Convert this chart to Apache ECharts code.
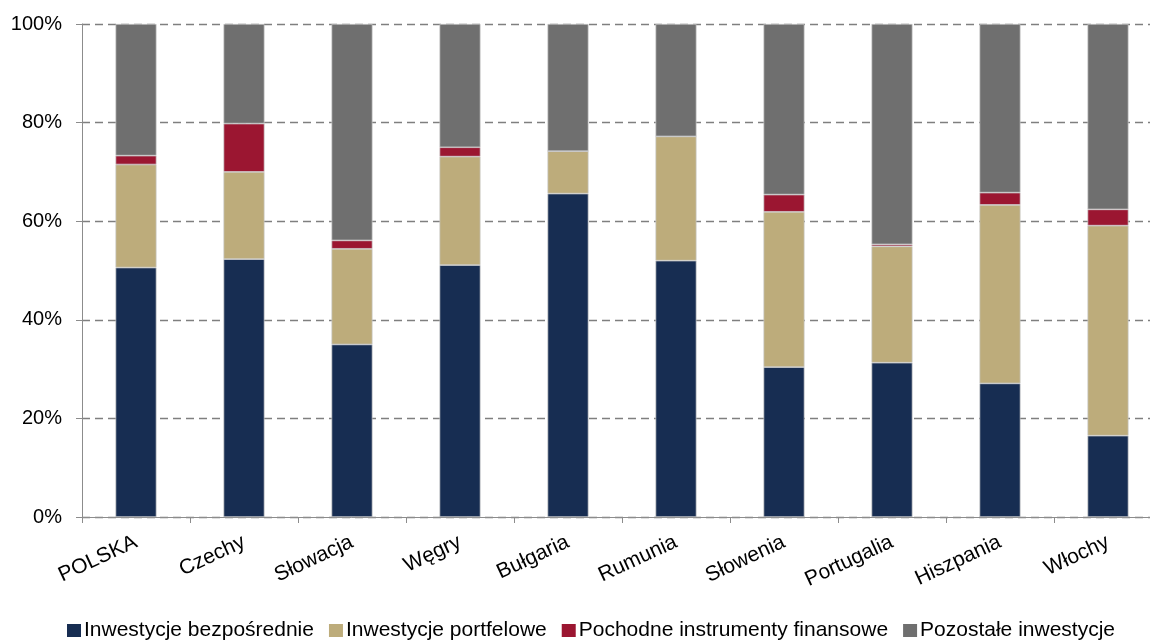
<!DOCTYPE html>
<html>
<head>
<meta charset="utf-8">
<script src="https://cdn.jsdelivr.net/npm/echarts@6/dist/echarts.min.js"></script>
<style>
  html, body { margin: 0; padding: 0; background: #fff; overflow: hidden; }
  /* plot area runs slightly past the right edge of the window */
  #chart { width: 1162px; height: 640px; }
</style>
</head>
<body>
<div id="chart"></div>
<script>
// Struktura zagranicznych zobowiązań inwestycyjnych (% całości)
const countries = ['POLSKA', 'Czechy', 'Słowacja', 'Węgry', 'Bułgaria', 'Rumunia', 'Słowenia', 'Portugalia', 'Hiszpania', 'Włochy'];
const direct     = [50.6, 52.3, 35.0, 51.1, 65.6, 52.0, 30.4, 31.3, 27.1, 16.5];
const portfolio  = [20.9, 17.7, 19.4, 22.0,  8.6, 25.2, 31.5, 23.6, 36.2, 42.6];
const derivative = [ 1.8,  9.8,  1.7,  1.9,  0.0,  0.0,  3.5,  0.4,  2.5,  3.3];
const other      = [26.7, 20.2, 43.9, 25.0, 25.8, 22.8, 34.6, 44.7, 34.2, 37.6];
const seriesNames = ['Inwestycje bezpośrednie', 'Inwestycje portfelowe', 'Pochodne instrumenty finansowe', 'Pozostałe inwestycje'];
const yTicks = [0, 20, 40, 60, 80, 100];

const colors = ['#172D52', '#BDAC7B', '#9B1631', '#6F6F6F'];
const font = "'Liberation Sans', Arial, sans-serif";

const chart = echarts.init(document.getElementById('chart'), null, { renderer: 'canvas' });

const seriesData = [direct, portfolio, derivative, other];

chart.setOption({
  animation: false,
  textStyle: { fontFamily: font },
  color: colors,
  grid: { left: 82, top: 24, bottom: 123, right: 0, containLabel: false },
  legend: {
    top: 615,
    left: 62,
    itemWidth: 14,
    itemHeight: 13,
    itemGap: 15,
    icon: 'rect',
    itemStyle: { borderWidth: 0 },
    textStyle: { fontFamily: font, fontSize: 21, color: '#000', padding: [0, 0, 0, -2] },
    data: seriesNames
  },
  xAxis: {
    type: 'category',
    data: countries,
    axisLine: { lineStyle: { color: '#8c8c8c', width: 1 } },
    axisTick: { show: true, length: 6, lineStyle: { color: '#8c8c8c' } },
    axisLabel: { rotate: 25, fontSize: 21, color: '#000', fontFamily: font, margin: 24 }
  },
  yAxis: {
    type: 'value',
    min: yTicks[0],
    max: yTicks[yTicks.length - 1],
    interval: 20,
    axisLine: { show: true, lineStyle: { color: '#8c8c8c', width: 1 } },
    axisTick: { show: true, length: 6, lineStyle: { color: '#8c8c8c' } },
    axisLabel: { formatter: '{value}%', fontSize: 20, color: '#000', fontFamily: font, margin: 20 },
    splitLine: { show: true, lineStyle: { color: '#7f7f7f', type: [8, 5], width: 1.3 } }
  },
  series: seriesNames.map((name, i) => ({
    name: name,
    type: 'bar',
    stack: 'total',
    barWidth: 41,
    data: seriesData[i],
    itemStyle: { color: colors[i], borderColor: '#c9c9c9', borderWidth: 0.7 }
  }))
});
</script>
</body>
</html>
